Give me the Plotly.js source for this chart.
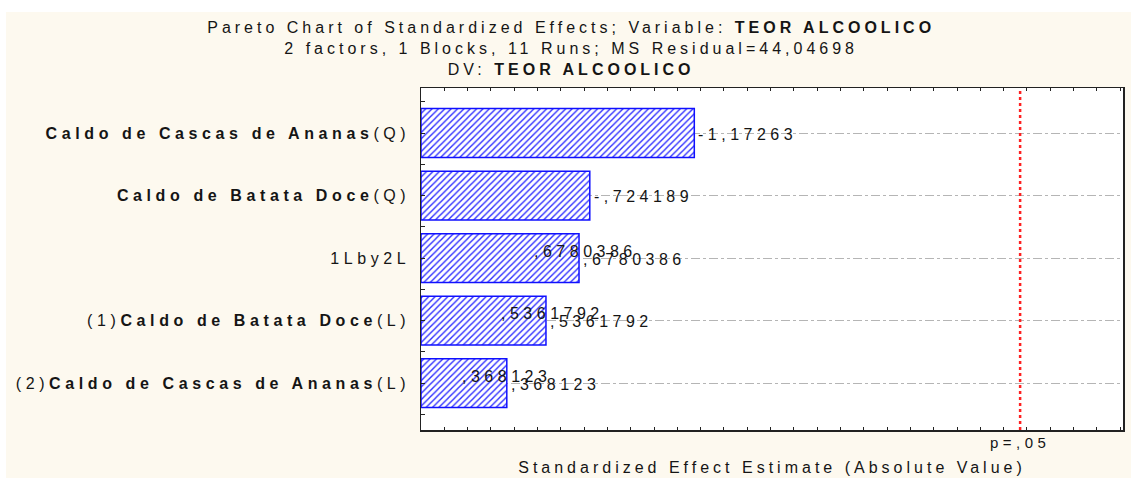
<!DOCTYPE html>
<html><head><meta charset="utf-8">
<script src="https://cdn.plot.ly/plotly-3.0.1.min.js"></script>
<style>
html,body{margin:0;padding:0;background:#fff;}
text{letter-spacing:4.5px;}
.gtitle{letter-spacing:4px;}
.xtitle{letter-spacing:4px;}
.ytick text{letter-spacing:4.6px;}
</style></head><body><div id="chart" style="width:1131px;height:478px;"></div>
<script>
const categories = ["Caldo de Cascas de Ananas(Q)","Caldo de Batata Doce(Q)","1Lby2L","(1)Caldo de Batata Doce(L)","(2)Caldo de Cascas de Ananas(L)"];
const tickLabels = ["<b>Caldo de Cascas de Ananas</b>(Q)","<b>Caldo de Batata Doce</b>(Q)","1Lby2L","(1)<b>Caldo de Batata Doce</b>(L)","(2)<b>Caldo de Cascas de Ananas</b>(L)"];
const effects = [-1.17263,-0.724189,0.6780386,0.5361792,0.368123];
const valueLabels = ["-1,17263","-,724189",",6780386",",5361792",",368123"];
const tCritical = 2.570582;
const criticalLabel = "p=,05";
const titleLines = ["Pareto Chart of Standardized Effects; Variable: <b>TEOR ALCOOLICO</b>","2 factors, 1 Blocks, 11 Runs; MS Residual=44,04698","DV: <b>TEOR ALCOOLICO</b>"];
const xTitle = "Standardized Effect Estimate (Absolute Value)";

const yIdx = categories.map((_, i) => i);
const absEff = effects.map(v => Math.abs(v));
const yRange = [4.752, -0.72];
const xRange = [0, 3.012];
const FONT = "Liberation Sans, Arial, sans-serif";
const TXT = "#151515";

const bars = {
  type: 'bar', orientation: 'h', x: absEff, y: yIdx, width: 0.78,
  text: categories, hoverinfo: 'x+text', textposition: 'none',
  marker: {color: '#ffffff', line: {color: '#1010ff', width: 1.5},
    pattern: {shape: '/', fgcolor: '#2a2aff', bgcolor: '#ffffff', size: 4.5, solidity: 0.3}},
  showlegend: false
};

const annotations = [];
effects.forEach((v, i) => {
  annotations.push({x: absEff[i], y: yIdx[i], xref: 'x', yref: 'y', text: valueLabels[i], showarrow: false,
    xanchor: 'left', yanchor: 'middle', xshift: 2, yshift: -1, font: {family: FONT, size: 16, color: TXT}});
  if (v > 0) {
    annotations.push({x: absEff[i], y: yIdx[i], xref: 'x', yref: 'y', text: valueLabels[i], showarrow: false,
      xanchor: 'left', yanchor: 'middle', xshift: -47, yshift: 7, font: {family: FONT, size: 16, color: TXT}});
  }
});
annotations.push({x: tCritical, y: 0, xref: 'x', yref: 'paper', text: criticalLabel, showarrow: false,
  xanchor: 'center', yanchor: 'top', yshift: -2, font: {family: FONT, size: 15, color: TXT}});

const layout = {
  width: 1131, height: 478,
  margin: {l: 421, r: 8, t: 88, b: 48},
  paper_bgcolor: '#fdf9ef', plot_bgcolor: '#ffffff',
  font: {family: FONT, size: 15, color: TXT},
  title: {text: titleLines.join('<br>'), font: {family: FONT, size: 16, color: TXT},
    xref: 'container', x: 0.505, xanchor: 'center', yref: 'container', y: 1 - 33/478, yanchor: 'top'},
  xaxis: {range: xRange, showticklabels: false, ticks: 'inside', ticklen: 3, tickwidth: 1, tickcolor: '#222',
    tick0: 0, dtick: 0.1,
    showline: true, linecolor: '#222', linewidth: 1.5, mirror: 'allticks', showgrid: false, zeroline: false,
    title: {text: xTitle, font: {family: FONT, size: 16, color: TXT}, standoff: 31}},
  xaxis2: {overlaying: 'x', anchor: 'y', side: 'bottom', range: xRange, tick0: 0, dtick: 0.5,
    ticks: 'inside', ticklen: 6, tickwidth: 1, tickcolor: '#222', mirror: 'allticks', showline: false,
    showticklabels: false, showgrid: false, zeroline: false},
  yaxis: {range: yRange, tickmode: 'array', tickvals: yIdx, ticktext: tickLabels,
    ticks: 'inside', ticklen: 4, tickcolor: '#222',
    minor: {dtick: 0.5, tick0: 0, ticks: 'inside', ticklen: 4, tickcolor: '#222', showgrid: false},
    showline: true, linecolor: '#222', linewidth: 1.5, mirror: true,
    showgrid: true, gridcolor: '#b5b5b5', gridwidth: 1, griddash: 'dashdot', zeroline: false,
    tickfont: {family: FONT, size: 16, color: TXT}, ticklabelstandoff: 6},
  yaxis2: {overlaying: 'y', side: 'right', range: yRange, tick0: 0, dtick: 0.25, ticks: 'inside', ticklen: 4,
    tickcolor: '#222', showticklabels: false, showgrid: false, zeroline: false, showline: false},
  shapes: [
    {type: 'line', xref: 'x', yref: 'paper', x0: tCritical, x1: tCritical, y0: 0, y1: 1,
      line: {color: '#ff2020', width: 2.5, dash: 'dot'}},
    {type: 'rect', xref: 'paper', yref: 'paper', x0: -0.6, x1: 1.02, y0: 1.222, y1: 1.3, fillcolor: '#ffffff', line: {width: 0}, layer: 'below'},
    {type: 'rect', xref: 'paper', yref: 'paper', x0: -0.6, x1: -0.5912, y0: -0.2, y1: 1.3, fillcolor: '#ffffff', line: {width: 0}, layer: 'below'}
  ],
  annotations: annotations,
  bargap: 0.2
};

Plotly.newPlot('chart', [bars], layout, {displayModeBar: false, staticPlot: true});
</script></body></html>
